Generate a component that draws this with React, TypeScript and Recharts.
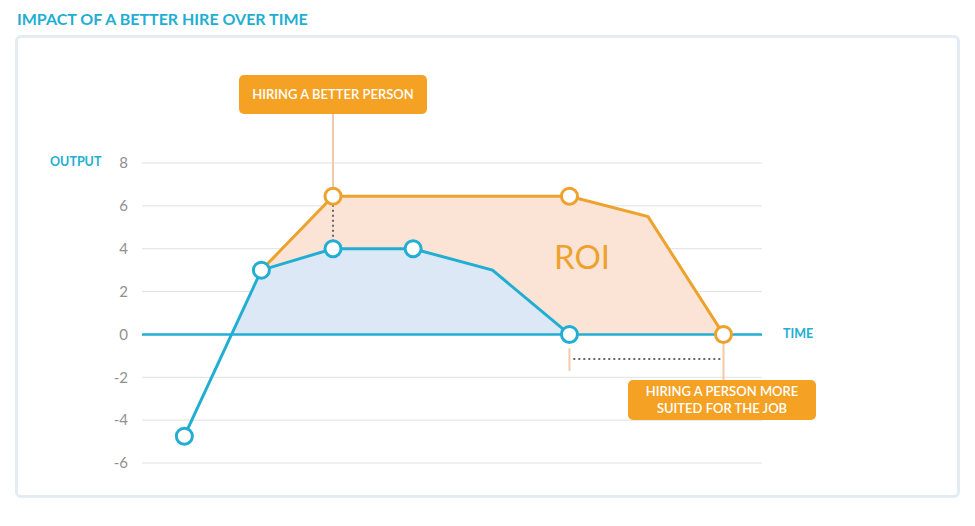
import React from 'react';
import { ComposedChart, Area, Line, XAxis, YAxis, CartesianGrid, ReferenceLine } from 'recharts';

// time positions and output values
const blueTime = [1, 2, 2.93, 3.97, 5, 6];
const blueOutput = [-4.75, 3, 4, 4, 3, 0];
const blueMarked = [true, true, true, true, false, true];

const orangeTime = [2, 2.93, 6, 7.02, 8];
const orangeOutput = [3, 6.45, 6.45, 5.5, 0];
const orangeMarked = [false, true, true, false, true];

// shaded part of the blue curve (above zero only)
const blueFillTime = [1.6, 2, 2.93, 3.97, 5, 6];
const blueFillOutput = [0, 3, 4, 4, 3, 0];

const yTicks = [-6, -4, -2, 0, 2, 4, 6, 8];

const BLUE = '#22aed3';
const ORANGE = '#eea22e';
const FONT = 'Lato, "Open Sans", sans-serif';

const toRows = (xs: number[], ys: number[]) => xs.map((t, i) => ({ t, v: ys[i] }));

const blueData = toRows(blueTime, blueOutput);
const orangeData = toRows(orangeTime, orangeOutput);
const blueFillData = toRows(blueFillTime, blueFillOutput);

const makeDot = (color: string, marks: boolean[]) => (props: any) => {
  const { cx, cy, index } = props;
  if (!marks[index]) return <g key={`d-${index}`} />;
  return (
    <circle key={`d-${index}`} cx={cx} cy={cy} r={8} fill="#fff" stroke={color} strokeWidth={3} />
  );
};

const boxStyle: React.CSSProperties = {
  position: 'absolute',
  background: '#f5a224',
  color: '#fff',
  borderRadius: 5,
  fontFamily: FONT,
  fontSize: 13,
  fontWeight: 600,
  display: 'flex',
  alignItems: 'center',
  justifyContent: 'center',
  textAlign: 'center',
  lineHeight: '17px',
};

export default function App() {
  return (
    <div style={{ position: 'absolute', left: 0, top: 0, width: 975, height: 526, background: '#fff', fontFamily: FONT }}>
      <div style={{ position: 'absolute', left: 17, top: 9, color: BLUE, fontSize: 16, fontWeight: 700 }}>
        IMPACT OF A BETTER HIRE OVER TIME
      </div>
      <div
        style={{
          position: 'absolute',
          left: 15,
          top: 35,
          width: 939,
          height: 457,
          border: '3px solid #e4ecf3',
          borderRadius: 6,
        }}
      />
      <div style={{ position: 'absolute', left: 0, top: 0 }}>
        <ComposedChart width={975} height={526} margin={{ top: 163, right: 213, bottom: 63, left: 0 }}>
          <CartesianGrid horizontal vertical={false} stroke="#e0e0e0" />
          <XAxis type="number" dataKey="t" domain={[0.45, 8.5]} hide allowDataOverflow />
          <YAxis
            type="number"
            domain={[-6, 8]}
            ticks={yTicks}
            width={142}
            axisLine={false}
            tickLine={false}
            tickMargin={8}
            tick={{ fill: '#909090', fontSize: 15, fontFamily: FONT }}
          />
          <Area
            data={orangeData}
            dataKey="v"
            type="linear"
            baseValue={0}
            stroke="none"
            fill="#fbe4d6"
            fillOpacity={1}
            isAnimationActive={false}
          />
          <Area
            data={blueFillData}
            dataKey="v"
            type="linear"
            baseValue={0}
            stroke="none"
            fill="#dce8f5"
            fillOpacity={1}
            isAnimationActive={false}
          />
          <ReferenceLine y={0} stroke={BLUE} strokeWidth={2.5} />
          <ReferenceLine
            segment={[{ x: 2.93, y: 10.3 }, { x: 2.93, y: 6.8 }]}
            stroke="#f2c9aa"
            strokeWidth={2}
            ifOverflow="visible"
          />
          <ReferenceLine
            segment={[{ x: 2.93, y: 6.05 }, { x: 2.93, y: 4.4 }]}
            stroke="#666"
            strokeWidth={2}
            strokeDasharray="2 3"
          />
          <ReferenceLine
            segment={[{ x: 6.05, y: -1.15 }, { x: 7.98, y: -1.15 }]}
            stroke="#666"
            strokeWidth={2}
            strokeDasharray="2 3"
          />
          <ReferenceLine
            segment={[{ x: 6, y: -0.65 }, { x: 6, y: -1.7 }]}
            stroke="#f2c9aa"
            strokeWidth={2}
          />
          <ReferenceLine
            segment={[{ x: 8, y: -0.4 }, { x: 8, y: -2.15 }]}
            stroke="#f2c9aa"
            strokeWidth={2}
          />
          <Line
            data={orangeData}
            dataKey="v"
            type="linear"
            stroke={ORANGE}
            strokeWidth={3}
            dot={makeDot(ORANGE, orangeMarked)}
            activeDot={false}
            isAnimationActive={false}
          />
          <Line
            data={blueData}
            dataKey="v"
            type="linear"
            stroke={BLUE}
            strokeWidth={3}
            dot={makeDot(BLUE, blueMarked)}
            activeDot={false}
            isAnimationActive={false}
          />
        </ComposedChart>
      </div>
      <div style={{ position: 'absolute', left: 50, top: 154, color: BLUE, fontSize: 12.5, fontWeight: 700 }}>OUTPUT</div>
      <div style={{ position: 'absolute', left: 783, top: 326, color: BLUE, fontSize: 12.5, fontWeight: 700 }}>TIME</div>
      <div style={{ position: 'absolute', left: 554, top: 236, color: ORANGE, fontSize: 33, fontWeight: 400 }}>ROI</div>
      <div style={{ ...boxStyle, left: 239, top: 75, width: 188, height: 39 }}>HIRING A BETTER PERSON</div>
      <div style={{ ...boxStyle, left: 628, top: 380, width: 188, height: 40 }}>
        HIRING A PERSON MORE
        <br />
        SUITED FOR THE JOB
      </div>
    </div>
  );
}
